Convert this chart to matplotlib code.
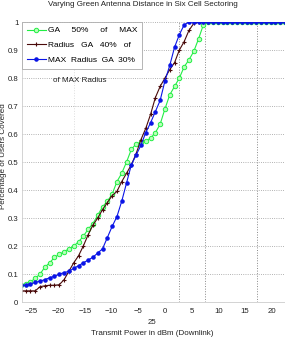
import numpy as np
import matplotlib
matplotlib.use('Agg')
import matplotlib.pyplot as plt

plt.rcParams['font.family'] = ['Liberation Sans', 'DejaVu Sans']

x_dbm = np.linspace(-27, 22.5, 56)

ga50 = [0.06, 0.065, 0.072, 0.085, 0.10, 0.125, 0.14, 0.16, 0.17, 0.18,
        0.19, 0.20, 0.215, 0.235, 0.26, 0.28, 0.31, 0.34, 0.36, 0.385,
        0.43, 0.46, 0.50, 0.545, 0.565, 0.57, 0.575, 0.585, 0.605, 0.635,
        0.69, 0.74, 0.77, 0.80, 0.84, 0.865, 0.895, 0.94, 0.99, 1.0,
        1.0, 1.0, 1.0, 1.0, 1.0, 1.0, 1.0, 1.0, 1.0, 1.0,
        1.0, 1.0, 1.0, 1.0, 1.0, 1.0]
ga40 = [0.04, 0.04, 0.04, 0.04, 0.055, 0.058, 0.06, 0.06, 0.062, 0.08,
        0.11, 0.14, 0.165, 0.20, 0.24, 0.275, 0.30, 0.33, 0.355, 0.38,
        0.395, 0.43, 0.46, 0.49, 0.53, 0.58, 0.62, 0.67, 0.73, 0.77,
        0.80, 0.83, 0.855, 0.90, 0.93, 0.97, 0.995, 1.0, 1.0, 1.0,
        1.0, 1.0, 1.0, 1.0, 1.0, 1.0, 1.0, 1.0, 1.0, 1.0,
        1.0, 1.0, 1.0, 1.0, 1.0, 1.0]
ga30 = [0.06, 0.06, 0.065, 0.07, 0.075, 0.08, 0.087, 0.092, 0.10, 0.105,
        0.11, 0.12, 0.13, 0.14, 0.15, 0.16, 0.175, 0.19, 0.23, 0.27,
        0.305, 0.36, 0.425, 0.49, 0.525, 0.56, 0.605, 0.64, 0.68, 0.72,
        0.79, 0.845, 0.91, 0.955, 0.99, 1.0, 1.0, 1.0, 1.0, 1.0,
        1.0, 1.0, 1.0, 1.0, 1.0, 1.0, 1.0, 1.0, 1.0, 1.0,
        1.0, 1.0, 1.0, 1.0, 1.0, 1.0]

labels = ['GA     50%     of     MAX',
          'Radius   GA   40%   of',
          'MAX  Radius  GA  30%']
xticks = [-25, -20, -15, -10, -5, 0, 5, 10, 15, 20]
yticks = [0, 0.1, 0.2, 0.3, 0.4, 0.5, 0.6, 0.7, 0.8, 0.9, 1]

fig = plt.figure(figsize=(2.85, 3.39), dpi=100)
ax = fig.add_axes([0.077, 0.109, 0.923, 0.826])

ax.plot(x_dbm, ga50, color='#22ee44', lw=0.8, marker='o', ms=3.2,
        mfc='#b8ffb8', mec='#22ee44', mew=0.7, label=labels[0])
ax.plot(x_dbm, ga40, color='#4a0a0a', lw=0.8, marker='+', ms=3.5,
        mew=0.8, label=labels[1])
ax.plot(x_dbm, ga30, color='#0a14e6', lw=0.8, marker='.', ms=4.5,
        label=labels[2])

ax.set_xlim(-26.8, 22.5)
ax.set_ylim(0, 1)
ax.set_xticks(xticks)
ax.set_yticks(yticks)
ax.set_yticklabels(['0', '0.1', '0.2', '0.3', '0.4', '0.5', '0.6', '0.7',
                    '0.8', '0.9', '1'])
ax.tick_params(length=0, labelsize=5.6, colors='#222222')
ax.tick_params(axis='x', pad=4)
ax.tick_params(axis='y', pad=2.5)

ax.yaxis.grid(True, ls=':', color='#999999', lw=0.6)
for xv, c in [(-17.1, '#dddddd'), (2.6, '#888888'), (7.5, '#888888'),
              (17.2, '#888888')]:
    ax.axvline(xv, ls=':', color=c, lw=0.7, zorder=0)

for s in ax.spines.values():
    s.set_color('#cccccc')
    s.set_linewidth(0.6)
ax.spines['top'].set_visible(False)
ax.spines['right'].set_visible(False)

leg = ax.legend(loc='upper left', bbox_to_anchor=(0.0, 1.0), borderaxespad=0,
                fontsize=6.0, handlelength=2.3, handletextpad=0.3,
                labelspacing=0.85, fancybox=False, framealpha=1,
                edgecolor='#aaaaaa', borderpad=0.55)
leg.get_frame().set_linewidth(0.6)
fig.text(0.186, 0.764, 'of MAX Radius', fontsize=5.8, color='#222222',
         ha='left', va='center')

fig.suptitle('Varying Green Antenna Distance in Six Cell Sectoring',
             fontsize=5.8, y=0.998, va='top', color='#222222')
fig.text(0.533, 0.050, '25', fontsize=5.6, ha='center', va='center',
         color='#222222')
fig.text(0.533, 0.017, 'Transmit Power in dBm (Downlink)', fontsize=5.8,
         ha='center', va='center', color='#222222')
fig.text(0.013, 0.54, 'Percentage of Users Covered', fontsize=5.8,
         rotation=90, ha='center', va='center', color='#222222')

fig.savefig('out.png', dpi=100)
